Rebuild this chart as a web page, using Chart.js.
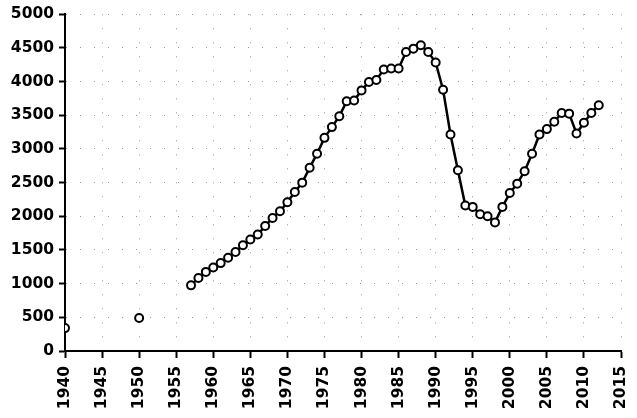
<!DOCTYPE html>
<html>
<head>
<meta charset="utf-8">
<script src="https://cdn.jsdelivr.net/npm/chart.js@4"></script>
<style>
  html, body { margin: 0; padding: 0; background: #fff; }
  #chart { display: block; }
</style>
</head>
<body>
<canvas id="chart" width="637" height="418"></canvas>
<script>
// isolated early observations
const earlyYears = [1940, 1950];
const earlyValues = [340, 490];

// continuous series
const years = [
    1957, 1958, 1959, 1960, 1961, 1962, 1963, 1964, 1965, 1966,
    1967, 1968, 1969, 1970, 1971, 1972, 1973, 1974, 1975, 1976,
    1977, 1978, 1979, 1980, 1981, 1982, 1983, 1984, 1985, 1986,
    1987, 1988, 1989, 1990, 1991, 1992, 1993, 1994, 1995, 1996,
    1997, 1998, 1999, 2000, 2001, 2002, 2003, 2004, 2005, 2006,
    2007, 2008, 2009, 2010, 2011, 2012
];
const values = [
    975, 1085, 1175, 1240, 1305, 1385, 1470, 1570, 1655, 1730,
    1855, 1975, 2075, 2210, 2360, 2500, 2720, 2930, 3165, 3325,
    3485, 3710, 3720, 3870, 3995, 4025, 4180, 4195, 4195, 4440,
    4490, 4540, 4440, 4285, 3880, 3215, 2685, 2160, 2140, 2030,
    2000, 1910, 2140, 2345, 2485, 2670, 2930, 3215, 3295, 3405,
    3535, 3525, 3230, 3390, 3535, 3650
];

const xTicks = { min: 1940, max: 2015, step: 5 };
const yTicks = { min: 0, max: 5000, step: 500 };

function toPoints(xs, ys) {
    return xs.map((x, i) => ({ x: x, y: ys[i] }));
}

const pointStyle = {
    borderColor: '#000',
    backgroundColor: '#fff',
    pointBackgroundColor: '#fff',
    pointBorderColor: '#000',
    pointBorderWidth: 2,
    pointRadius: 4,
    pointHoverRadius: 4
};

const font = { family: 'DejaVu Sans', size: 15.5, weight: 'bold' };

new Chart(document.getElementById('chart'), {
    type: 'line',
    data: {
        datasets: [
            {
                ...pointStyle,
                data: toPoints(earlyYears, earlyValues),
                showLine: false
            },
            {
                ...pointStyle,
                data: toPoints(years, values),
                borderWidth: 2.5,
                tension: 0
            }
        ]
    },
    options: {
        responsive: false,
        animation: false,
        layout: { padding: { top: 14, right: 16, left: 0, bottom: 0 } },
        plugins: {
            legend: { display: false },
            tooltip: { enabled: false }
        },
        scales: {
            x: {
                type: 'linear',
                min: xTicks.min,
                max: xTicks.max,
                afterFit: s => {
                    s.height = 67;
                    s.paddingLeft = 0;
                    s.paddingRight = 0;
                },
                border: { color: '#000', width: 2, dash: [1, 13] },
                grid: {
                    color: 'rgba(0,0,0,0.4)',
                    lineWidth: 1,
                    tickLength: 7,
                    tickColor: '#000',
                    tickWidth: 2,
                    tickBorderDash: []
                },
                ticks: {
                    stepSize: xTicks.step,
                    minRotation: 90,
                    maxRotation: 90,
                    padding: 8,
                    color: '#000',
                    font: font,
                    callback: v => String(v)
                }
            },
            y: {
                min: yTicks.min,
                max: yTicks.max,
                afterFit: s => { s.width = 65; },
                border: { color: '#000', width: 2, dash: [1, 13] },
                grid: {
                    color: 'rgba(0,0,0,0.4)',
                    lineWidth: 1,
                    tickLength: 6,
                    tickColor: '#000',
                    tickWidth: 2,
                    tickBorderDash: []
                },
                ticks: {
                    stepSize: yTicks.step,
                    padding: 5,
                    color: '#000',
                    font: font,
                    callback: v => String(v)
                }
            }
        }
    }
});
</script>
</body>
</html>
